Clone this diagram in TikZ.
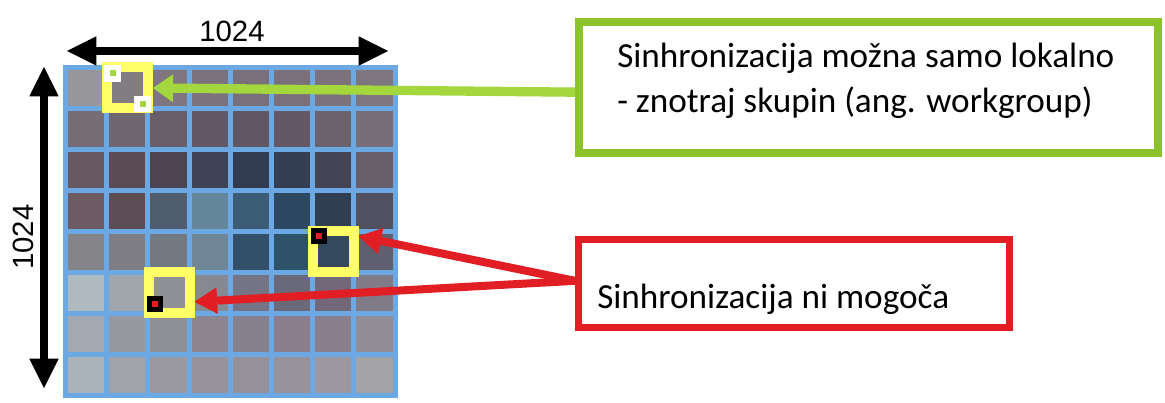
\documentclass[tikz,border=0pt]{standalone}
\usepackage{fontspec}
\setmainfont{Carlito}
\newfontfamily\dimfont{Liberation Sans}
\usepackage{tikz}
\usetikzlibrary{calc}
\usetikzlibrary{arrows.meta}
\definecolor{gridblue}{RGB}{108,168,228}
\definecolor{boxgreen}{RGB}{140,194,42}
\definecolor{arrgreen}{RGB}{164,214,62}
\definecolor{boxred}{RGB}{224,30,36}
\definecolor{selyellow}{RGB}{255,255,102}
\tikzset{
  gridline/.style={line width=3.75pt,color=gridblue},
  selbox/.style={draw=selyellow,line width=7.5pt,minimum size=30.75pt,inner sep=0pt},
  wmark/.style={fill=white,minimum size=12.5pt,inner sep=0pt},
  kmark/.style={fill=black,minimum size=12pt,inner sep=0pt},
  dimarrow/.style={{Triangle[length=22pt,width=22pt,line width=0pt]}-{Triangle[length=22pt,width=22pt,line width=0pt]},line width=6.5pt},
  garrow/.style={-{Triangle[length=15pt,width=21pt,line width=0pt]},line width=7pt,color=arrgreen},
  rarrow/.style={-{Triangle[length=17pt,width=20pt,line width=0pt]},line width=6pt,color=boxred},
  dimlbl/.style={font=\dimfont\fontsize{22}{26}\selectfont,inner sep=0pt},
  lbl/.style={font=\fontsize{26.4}{33.75}\selectfont,inner sep=0pt}
}

\begin{document}
\begin{tikzpicture}[line cap=butt,line join=miter,x=0.75pt,y=-0.75pt]
            \useasboundingbox (0,0) rectangle (1165,403);
            % blurred picture behind the grid
            \foreach \r/\g/\b [count=\i from 0] in {
              150/150/155,130/125/130,128/118/128,124/114/125,122/112/124,122/112/124,124/114/124,127/117/127,
              118/108/115,112/102/112,104/94/104,99/89/102,96/86/100,99/89/102,108/98/108,120/110/120,
              104/89/96,90/75/85,76/68/80,62/68/86,50/60/80,52/62/82,68/68/84,104/94/106,
              108/91/98,92/77/85,80/93/110,100/134/154,58/92/116,46/72/97,48/62/84,80/80/96,
              132/132/137,125/125/131,114/121/131,110/134/149,50/80/105,46/82/106,52/72/94,95/95/112,
              175/185/192,160/166/172,143/145/151,134/136/146,116/116/132,105/105/122,114/104/122,128/123/135,
              163/169/176,152/152/160,143/143/151,140/133/143,135/128/141,138/125/141,138/128/141,145/141/151,
              171/179/186,162/162/170,154/152/160,152/147/154,150/144/152,152/147/154,157/152/160,164/164/167}{
              \pgfmathtruncatemacro\cx{mod(\i,8)}
              \pgfmathtruncatemacro\cy{div(\i,8)}
              \fill[fill={rgb,255:red,\r;green,\g;blue,\b}] (65.5+\cx*41.2,68+\cy*40.95) rectangle ++(41.2,40.95);
            }
            \foreach \k in {0,...,8}{
              \draw[gridline] (65.5+\k*41.2,65.5) -- (65.5+\k*41.2,398);
              \draw[gridline] (63,68+\k*40.95) -- (398,68+\k*40.95);
            }
            % dimensions
            \coordinate (wl) at (67,51);
            \coordinate (wr) at (388,51);
            \coordinate (ht) at (44,67);
            \coordinate (hb) at (44,388);
            \draw[dimarrow] (wl) -- (wr);
            \draw[dimarrow] (ht) -- (hb);
            \node[dimlbl] (wlbl) at (232,31) {1024};
            \node[dimlbl,rotate=90] (hlbl) at (23,237) {1024};
            % work-groups
            \node[selbox] (ytl) at (127.5,88) {};
            \node[selbox] (ymid) at (333,251) {};
            \node[selbox] (ybot) at (169,292.5) {};
            \node[wmark] (wa) at (112.5,73.5) {};
            \node[wmark] (wb) at (142.5,104) {};
            \fill[arrgreen] (wa.center) +(-3,-3) rectangle +(3,3);
            \fill[arrgreen] (wb.center) +(-3,-3) rectangle +(3,3);
            \node[kmark] (ka) at (319,236) {};
            \node[kmark] (kb) at (155,303.5) {};
            \fill[boxred] (ka.center) +(-3,-3) rectangle +(3,3);
            \fill[boxred] (kb.center) +(-3,-3) rectangle +(3,3);
            % callouts
            \node[draw=boxgreen,line width=6pt,fill=white,minimum width=434.25pt,minimum height=98.25pt] (gbox) at (868.5,87.5) {};
            \node[lbl,align=left,anchor=west] (gtxt) at (617,81) {Sinhronizacija možna samo lokalno\\- znotraj skupin (ang. workgroup)};
            \node[draw=boxred,line width=5.25pt,fill=white,minimum width=323.25pt,minimum height=66pt] (rbox) at (794,283.5) {};
            \node[lbl,anchor=base west] (rtxt) at (597,308) {Sinhronizacija ni mogoča};
            \draw[garrow] ([yshift=-3.5pt]gbox.west) -- (ytl.east);
            \draw[rarrow] ([yshift=2pt]rbox.west) -- ([yshift=11pt]ymid.east);
            \draw[rarrow] ([yshift=2pt]rbox.west) -- ([yshift=-7pt]ybot.east);
\end{tikzpicture}
\end{document}
